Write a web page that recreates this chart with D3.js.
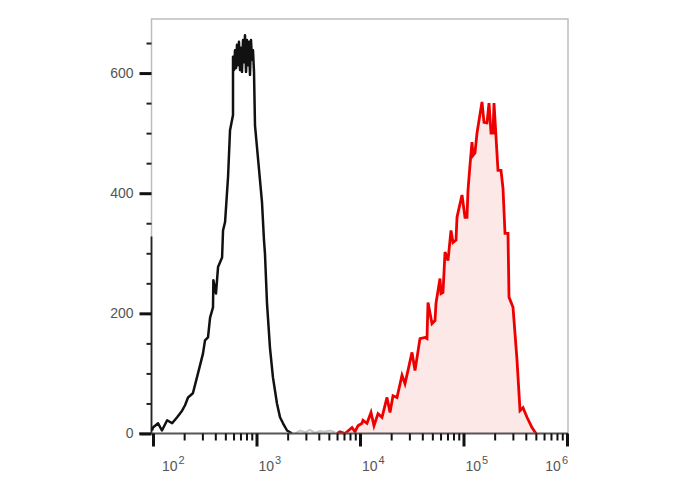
<!DOCTYPE html>
<html>
<head>
<meta charset="utf-8">
<script src="https://cdn.jsdelivr.net/npm/d3@7"></script>
<style>
  html, body { margin: 0; padding: 0; background: #fff; }
  svg { display: block; font-family: "Liberation Sans", Arial, sans-serif; }
</style>
</head>
<body>
<svg id="chart" width="688" height="490"></svg>
<script>
// ---- data (fluorescence intensity, event count) ----
const blackX = [98,100,112,122,137,153,171,191,204,218,243,272,304,318,340,356,380,383,406,425,465,475,497,531,555,593,
  593,606,620,634,648,663,677,693,708,724,741,757,774,792,809,828,846,865,885,905,925,946,967,
  1034,1130,1181,1207,1263,1349,1443,1577,1687,1804,1972,2109,2200];
const blackY = [5,10,17,5,22,17,27,38,47,60,67,100,133,155,160,193,210,255,233,277,293,338,352,427,505,530,
  627,605,638,608,647,613,652,605,642,602,655,618,663,602,655,613,652,597,655,622,638,602,513,
  458,385,322,300,217,143,93,50,27,17,5,2,0];

const grayX = [2355,2633,2942,3289,3675,4107,4590,5129,5734];
const grayY = [0,5,2,6,1,4,3,5,2];

const redX = [6000,6411,7165,8372,8946,9566,10455,10690,11685,12774,13653,14928,16318,18237,19498,20835,22782,25455,27217,
  29096,31800,34006,37986,42462,44397,45400,49620,53050,54250,59280,60620,63380,66290,70840,75720,79170,84650,86550,
  96720,103400,108100,110500,115600,120800,123600,129100,135000,150900,157800,168700,176400,184400,192800,197100,
  215400,230300,240800,251800,269100,275200,300900,328900,351600,375800,410800,459000,501800];
const redY = [0,3,0,10,3,13,17,22,17,35,13,33,27,60,35,63,60,97,83,
  105,135,105,158,160,158,218,183,188,217,258,233,235,302,288,338,318,322,360,
  397,360,360,405,447,485,463,467,500,552,518,517,550,500,500,550,
  438,438,408,333,333,227,210,122,38,43,27,10,0];

const xMajor = [1e2, 1e3, 1e4, 1e5, 1e6];
const xExponents = ["2", "3", "4", "5", "6"];
const yMajor = [0, 200, 400, 600];

// ---- layout ----
const svg = d3.select("#chart");
const x = d3.scaleLog().domain([1e2, 1e6]).range([153, 567]);
const y = d3.scaleLinear().domain([0, 690]).range([433.5, 19]);

const xMinor = [];
for (let d = 2; d < 6; d++) for (let m = 2; m <= 9; m++) xMinor.push(m * Math.pow(10, d));
const yMinor = d3.range(50, 690, 50).filter(v => v % 200 !== 0);

// frame (gray)
svg.append("path")
  .attr("d", `M${x.range()[0] - 1.5},${y(0)} V${y.range()[1]} H${x.range()[1] + 1} V${y(0)}`)
  .attr("fill", "none").attr("stroke", "#bdbdbd").attr("stroke-width", 1.5);
// darker lower part of the left axis
svg.append("line")
  .attr("x1", 151.5).attr("x2", 151.5).attr("y1", y(328)).attr("y2", y(0))
  .attr("stroke", "#222").attr("stroke-width", 1.8);

// ---- curves ----
const pts = (xs, ys) => xs.map((v, i) => [v, ys[i]]);
const line = d3.line().x(d => x(d[0])).y(d => y(d[1]));
const area = d3.area().x(d => x(d[0])).y0(y(0)).y1(d => y(d[1]));

svg.append("path").datum(pts(grayX, grayY))
  .attr("d", line).attr("fill", "none").attr("stroke", "#c8c8c8").attr("stroke-width", 2);

svg.append("path").datum(pts(redX, redY))
  .attr("d", area).attr("fill", "#fde8e8");
svg.append("path").datum(pts(redX, redY))
  .attr("d", line).attr("fill", "none").attr("stroke", "#ee0000")
  .attr("stroke-width", 2.8).attr("stroke-linejoin", "miter");

svg.append("path").datum(pts(blackX, blackY))
  .attr("d", line).attr("fill", "none").attr("stroke", "#111")
  .attr("stroke-width", 2.5).attr("stroke-linejoin", "round");

// ---- x axis ----
const gx = svg.append("g").attr("transform", `translate(0,${y(0)})`);
gx.append("line").attr("x1", 139).attr("x2", 568).attr("y1", 0).attr("y2", 0)
  .attr("stroke", "#555").attr("stroke-width", 2);
gx.append("g").call(d3.axisBottom(x).tickValues(xMinor).tickSize(7).tickFormat(""))
  .call(g => g.select(".domain").remove())
  .call(g => g.selectAll(".tick line").attr("stroke", "#111").attr("stroke-width", 2));
gx.append("g").call(d3.axisBottom(x).tickValues(xMajor).tickSize(13).tickFormat(""))
  .call(g => g.select(".domain").remove())
  .call(g => g.selectAll(".tick line").attr("stroke", "#111").attr("stroke-width", 3));

const labels = gx.append("g").selectAll("text").data(xMajor).join("text")
  .attr("x", (d, i) => x(d) + (i === 0 ? 9 : (i === xMajor.length - 1 ? 1 : 2)))
  .attr("y", 37.5)
  .attr("text-anchor", (d, i) => i === xMajor.length - 1 ? "end" : "start")
  .attr("fill", "#555").attr("font-size", 14);
labels.append("tspan").text("10");
labels.append("tspan").text((d, i) => xExponents[i])
  .attr("font-size", 11).attr("dy", -7).attr("dx", 1);

// ---- y axis ----
const gy = svg.append("g").attr("transform", "translate(151.5,0)");
gy.append("g").call(d3.axisLeft(y).tickValues(yMinor).tickSize(5).tickFormat(""))
  .call(g => g.select(".domain").remove())
  .call(g => g.selectAll(".tick line").attr("stroke", "#222").attr("stroke-width", 2));
gy.append("g").call(d3.axisLeft(y).tickValues(yMajor).tickSize(12).tickPadding(6).tickFormat(d3.format("d")))
  .call(g => g.select(".domain").remove())
  .call(g => g.selectAll(".tick line").attr("stroke", "#111").attr("stroke-width", 3))
  .call(g => g.selectAll(".tick text").attr("fill", "#555").attr("font-size", 14)
    .attr("font-family", "Liberation Sans, Arial, sans-serif"));
</script>
</body>
</html>
